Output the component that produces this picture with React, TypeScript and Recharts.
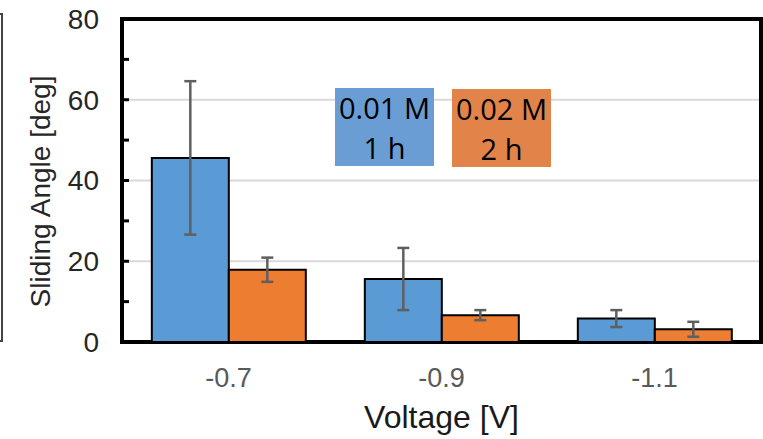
import React from "react";
import {
  BarChart,
  Bar,
  XAxis,
  YAxis,
  CartesianGrid,
  ErrorBar,
  Legend,
  Label,
  ReferenceArea,
} from "recharts";

const voltages = ["-0.7", "-0.9", "-1.1"];
const angle01M = [45.6, 15.6, 5.8];
const err01M = [19.0, 7.7, 2.1];
const angle02M = [17.9, 6.65, 3.15];
const err02M = [3.0, 1.25, 1.85];
const seriesNames = ["0.01 M", "0.02 M"];
const seriesTimes = ["1 h", "2 h"];
const yTicks = [0, 10, 20, 30, 40, 50, 60, 70, 80];
const gridValues = [20, 40, 60];

const data = voltages.map((v, i) => ({
  voltage: v,
  a1: angle01M[i],
  e1: err01M[i],
  a2: angle02M[i],
  e2: err02M[i],
}));

const font = "'Liberation Sans', Arial, sans-serif";
const boxColors = ["#6A9DD4", "#E2834A"];

function LegendBoxes({ payload }: any) {
  return (
    <div style={{ display: "flex", gap: 18 }}>
      {(payload || []).map((entry: any, i: number) => (
        <div
          key={entry.value}
          style={{
            width: 99,
            height: 78,
            marginTop: i,
            background: boxColors[i],
            color: "#000",
            fontFamily: "'Open Sans', sans-serif",
            fontSize: 29,
            lineHeight: "40px",
            textAlign: "center",
          }}
        >
          <div>{entry.value}</div>
          <div>{seriesTimes[i]}</div>
        </div>
      ))}
    </div>
  );
}

function YTitle({ viewBox }: any) {
  const cx = viewBox.x + 50;
  const cy = viewBox.y + viewBox.height / 2 + 11;
  return (
    <text
      x={cx}
      y={cy}
      transform={`rotate(-90, ${cx}, ${cy})`}
      textAnchor="middle"
      fontSize={28}
      fontFamily={font}
      fill="#262626"
    >
      Sliding Angle [deg]
    </text>
  );
}

const xTickStyle = { fontSize: 27, fill: "#595959", fontFamily: font };
const yTickStyle = { fontSize: 28, fill: "#262626", fontFamily: font };

export default function App() {
  return (
    <div
      style={{
        position: "fixed",
        left: 0,
        top: 0,
        width: 763,
        height: 439,
        background: "#fff",
        overflow: "hidden",
      }}
    >
      {/* edge of a neighbouring panel */}
      <div
        style={{
          position: "absolute",
          left: -20,
          top: 13,
          width: 23,
          height: 329,
          boxSizing: "border-box",
          border: "2px solid #444",
        }}
      />
      <BarChart
        width={763}
        height={439}
        data={data}
        margin={{ top: 19, right: 2, bottom: 0, left: 0 }}
        barCategoryGap="14%"
        barGap={0}
        style={{ fontFamily: font }}
      >
        <CartesianGrid
          vertical={false}
          horizontalValues={gridValues}
          stroke="#d9d9d9"
          strokeWidth={2}
        />
        <XAxis
          dataKey="voltage"
          height={97}
          axisLine={false}
          tickLine={false}
          tickSize={0}
          tickMargin={26}
          fontSize={27}
          tick={{ ...xTickStyle, style: xTickStyle }}
        >
          <Label
            value="Voltage [V]"
            position="insideBottom"
            offset={11}
            style={{ fontSize: 32, fill: "#1a1a1a", fontFamily: font }}
          />
        </XAxis>
        <YAxis
          type="number"
          domain={[0, 80]}
          ticks={yTicks}
          interval={0}
          width={122}
          axisLine={false}
          tickLine={{ stroke: "#000", strokeWidth: 3 }}
          tickSize={-7}
          tickMargin={30}
          fontSize={28}
          tickFormatter={(v: number) => (v % 20 === 0 ? String(v) : "")}
          tick={{ ...yTickStyle, style: yTickStyle }}
        >
          <Label content={<YTitle />} />
        </YAxis>
        <Bar
          dataKey="a1"
          name={seriesNames[0]}
          fill="#5B9BD5"
          stroke="#000"
          strokeWidth={2}
          isAnimationActive={false}
        >
          <ErrorBar dataKey="e1" width={6} stroke="#5f5f5f" strokeWidth={2.5} isAnimationActive={false} />
        </Bar>
        <Bar
          dataKey="a2"
          name={seriesNames[1]}
          fill="#ED7D31"
          stroke="#000"
          strokeWidth={2}
          isAnimationActive={false}
        >
          <ErrorBar dataKey="e2" width={6} stroke="#5f5f5f" strokeWidth={2.5} isAnimationActive={false} />
        </Bar>
        <ReferenceArea y1={0} y2={80} fill="none" fillOpacity={0} stroke="#000" strokeWidth={4} />
        <Legend
          layout="horizontal"
          verticalAlign="middle"
          content={<LegendBoxes />}
          wrapperStyle={{ left: 335, top: 88, width: "auto" }}
        />
      </BarChart>
    </div>
  );
}
